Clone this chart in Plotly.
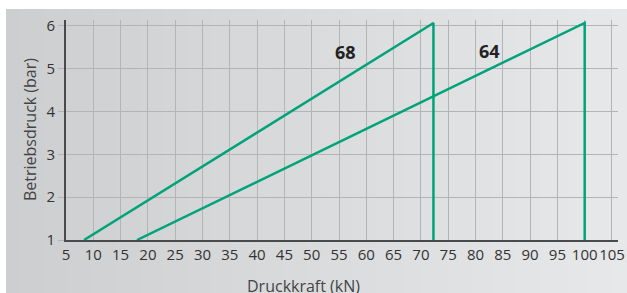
import plotly.graph_objects as go

# Data
x_68 = [8.3, 72.3, 72.3]
y_68 = [1.0, 6.07, 1.0]
x_64 = [18.0, 100.0, 100.0]
y_64 = [1.0, 6.07, 1.0]
labels = ["68", "64"]
label_x = [56.1, 82.6]
label_y = [5.39, 5.42]
x_ticks = list(range(5, 106, 5))
y_ticks = [1, 2, 3, 4, 5, 6]

GREEN = "#00a37a"
FONT = "Open Sans"

fig = go.Figure()
fig.add_trace(go.Scatter(x=x_68, y=y_68, mode="lines", line=dict(color=GREEN, width=2.5),
                         showlegend=False, hoverinfo="skip"))
fig.add_trace(go.Scatter(x=x_64, y=y_64, mode="lines", line=dict(color=GREEN, width=2.5),
                         showlegend=False, hoverinfo="skip"))

# Gradient background via strips (paper coordinates)
W, H = 627, 293
ml, mr, mt, mb = 66, 9, 20, 53
pw = W - ml - mr
ph = H - mt - mb
def px2paper_x(px):
    return (px - ml) / pw
def py2paper_y(py):
    return (H - mb - py) / ph

c0 = (205, 206, 208)
c1 = (231, 232, 233)
x_start, x_end = 6, 627
n = 124
shapes = []
for i in range(n):
    a = x_start + (x_end - x_start) * i / n
    b = x_start + (x_end - x_start) * (i + 1) / n
    t = i / (n - 1)
    col = tuple(round(c0[k] + (c1[k] - c0[k]) * t) for k in range(3))
    shapes.append(dict(type="rect", xref="paper", yref="paper",
                       x0=px2paper_x(a), x1=px2paper_x(b) + 0.002,
                       y0=py2paper_y(293), y1=py2paper_y(9),
                       fillcolor="rgb(%d,%d,%d)" % col, line=dict(width=0), layer="below"))

annotations = []
for t, ax, ay in zip(labels, label_x, label_y):
    annotations.append(dict(x=ax, y=ay, xref="x", yref="y", text="<b>%s</b>" % t, showarrow=False,
                            font=dict(family=FONT, size=18, color="#222222")))
annotations.append(dict(x=0.43, y=0, xref="paper", yref="paper", text="Druckkraft (kN)",
                        showarrow=False, yanchor="top", yshift=-33,
                        font=dict(family=FONT, size=16, color="#444444")))
annotations.append(dict(x=0, y=0.5, xref="paper", yref="paper", text="Betriebsdruck (bar)",
                        showarrow=False, textangle=-90, xanchor="center", xshift=-36,
                        font=dict(family=FONT, size=16, color="#444444")))

fig.update_layout(
    width=W, height=H,
    autosize=False,
    margin=dict(l=ml, r=mr, t=mt, b=mb, autoexpand=False),
    paper_bgcolor="white",
    plot_bgcolor="rgba(0,0,0,0)",
    shapes=shapes,
    annotations=annotations,
    font=dict(family=FONT, size=15, color="#333333"),
)
fig.update_xaxes(range=[5, 106.1], tickvals=x_ticks, ticks="", showgrid=True, tickangle=0,
                 automargin=False,
                 gridcolor="#b4b4b4", gridwidth=1, showline=True, linecolor="#4a4a4a",
                 linewidth=2, zeroline=False, tickfont=dict(size=15, color="#333333"))
fig.update_yaxes(range=[1, 6.14], tickvals=y_ticks, ticks="outside", ticklen=6,
                 automargin=False,
                 tickcolor="#b4b4b4", showgrid=True, gridcolor="#b4b4b4", gridwidth=1,
                 showline=True, linecolor="#4a4a4a", linewidth=2, zeroline=False,
                 tickfont=dict(size=15, color="#333333"))

fig.write_html(
    "out.html",
    config={"displayModeBar": False, "responsive": False},
    post_script=(
        "document.documentElement.style.overflow='hidden';"
        "document.body.style.overflow='hidden';"
        "document.body.style.margin='0';document.body.style.padding='0';"
    ),
)
